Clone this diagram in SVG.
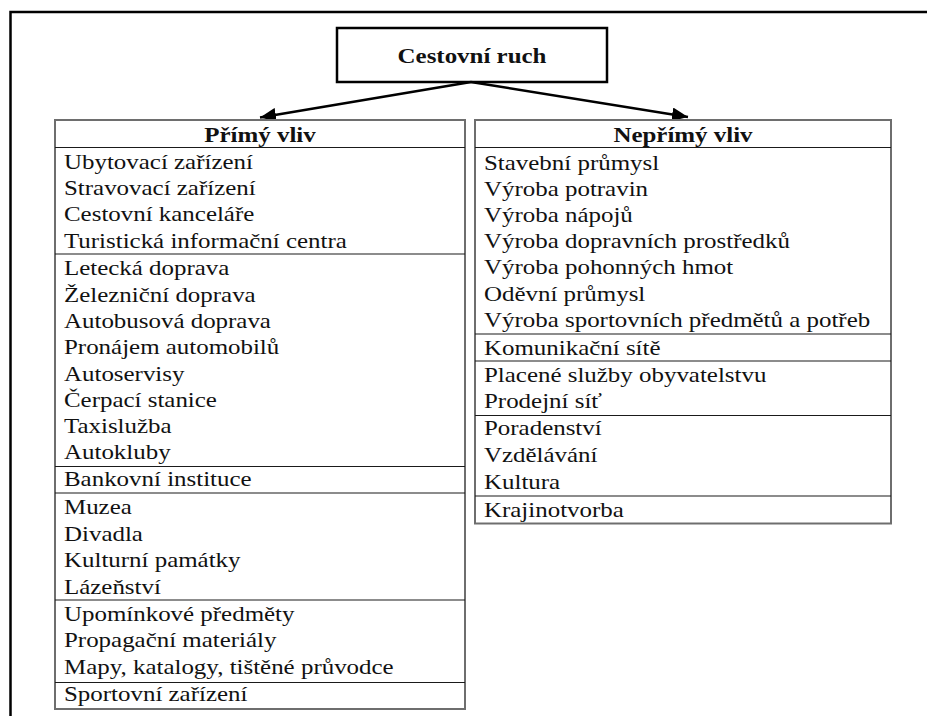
<svg xmlns="http://www.w3.org/2000/svg" width="927" height="716" viewBox="0 0 927 716">
<style>
text{font-family:"Liberation Serif","Times New Roman",serif;font-size:21.5px;fill:#111}
.b{font-weight:bold}
.frame{fill:none;stroke:#000;stroke-width:2.5}
.outer{fill:#fff;stroke:#6e6e6e;stroke-width:2}
.sep{stroke:#1a1a1a;stroke-width:1.2}
.conn{stroke:#000;stroke-width:2.5;fill:none}
.top{fill:#fff;stroke:#000;stroke-width:2.5}
</style>
<defs>
<marker id="ah" markerUnits="userSpaceOnUse" markerWidth="18" markerHeight="14" refX="16" refY="7" orient="auto">
<path d="M0,0 L16,7 L0,14 Z" fill="#000"/>
</marker>
</defs>
<rect width="927" height="716" fill="#fff"/>
<path class="frame" d="M10.5,716 V12 H927"/>

<g id="cestovni-ruch">
<rect class="top" x="337" y="28" width="270" height="54"/>
<text class="b" text-anchor="middle" transform="translate(472,63) scale(1.16,1)">Cestovní ruch</text>
</g>

<g id="connectors">
<line class="conn" x1="471" y1="82" x2="260" y2="117.5" marker-end="url(#ah)"/>
<line class="conn" x1="471" y1="82" x2="688" y2="117" marker-end="url(#ah)"/>
</g>

<g id="primy-vliv">
<rect class="outer" x="55" y="120" width="410" height="589"/>
<line class="sep" x1="55" y1="147.5" x2="465" y2="147.5"/>
<line class="sep" x1="55" y1="254" x2="465" y2="254"/>
<line class="sep" x1="55" y1="466.5" x2="465" y2="466.5"/>
<line class="sep" x1="55" y1="493" x2="465" y2="493"/>
<line class="sep" x1="55" y1="600" x2="465" y2="600"/>
<line class="sep" x1="55" y1="682.5" x2="465" y2="682.5"/>
<text class="b" text-anchor="middle" transform="translate(260,142) scale(1.16,1)">Přímý vliv</text>
<g transform="translate(64,0) scale(1.16,1)">
<text y="169">Ubytovací zařízení</text>
<text y="195.2">Stravovací zařízení</text>
<text y="221.4">Cestovní kanceláře</text>
<text y="247.6">Turistická informační centra</text>
<text y="275.5">Letecká doprava</text>
<text y="301.8">Železniční doprava</text>
<text y="328">Autobusová doprava</text>
<text y="354.3">Pronájem automobilů</text>
<text y="380.6">Autoservisy</text>
<text y="406.9">Čerpací stanice</text>
<text y="433.1">Taxislužba</text>
<text y="459.3">Autokluby</text>
<text y="486.5">Bankovní instituce</text>
<text y="514.5">Muzea</text>
<text y="541">Divadla</text>
<text y="567.5">Kulturní památky</text>
<text y="594">Lázeňství</text>
<text y="620.7">Upomínkové předměty</text>
<text y="647.3">Propagační materiály</text>
<text y="674">Mapy, katalogy, tištěné průvodce</text>
<text y="701.5">Sportovní zařízení</text>
</g>
</g>

<g id="neprimy-vliv">
<rect class="outer" x="475" y="120" width="416" height="403.5"/>
<line class="sep" x1="475" y1="147.5" x2="891" y2="147.5"/>
<line class="sep" x1="475" y1="334" x2="891" y2="334"/>
<line class="sep" x1="475" y1="361" x2="891" y2="361"/>
<line class="sep" x1="475" y1="415.5" x2="891" y2="415.5"/>
<line class="sep" x1="475" y1="496" x2="891" y2="496"/>
<text class="b" text-anchor="middle" transform="translate(683,142) scale(1.16,1)">Nepřímý vliv</text>
<g transform="translate(484,0) scale(1.16,1)">
<text y="170">Stavební průmysl</text>
<text y="196">Výroba potravin</text>
<text y="222">Výroba nápojů</text>
<text y="248">Výroba dopravních prostředků</text>
<text y="274.3">Výroba pohonných hmot</text>
<text y="300.6">Oděvní průmysl</text>
<text y="326.8">Výroba sportovních předmětů a potřeb</text>
<text y="355">Komunikační sítě</text>
<text y="381.7">Placené služby obyvatelstvu</text>
<text y="408">Prodejní síť</text>
<text y="435">Poradenství</text>
<text y="462">Vzdělávání</text>
<text y="489">Kultura</text>
<text y="516.7">Krajinotvorba</text>
</g>
</g>
</svg>
